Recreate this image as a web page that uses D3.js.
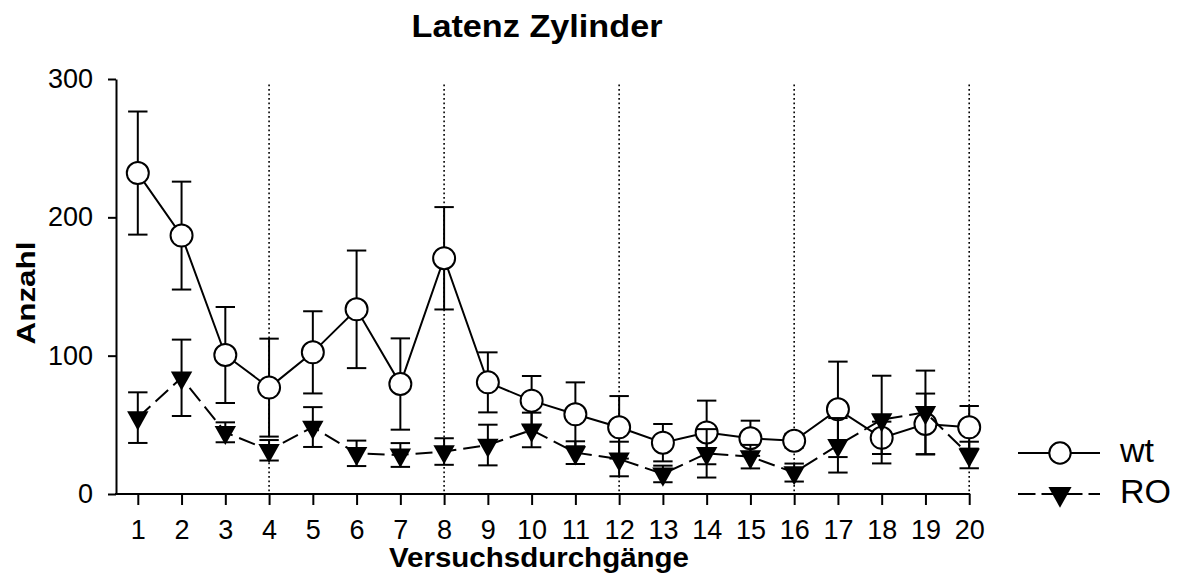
<!DOCTYPE html>
<html>
<head>
<meta charset="utf-8">
<script src="https://cdn.jsdelivr.net/npm/d3@7"></script>
<style>
  html, body { margin: 0; padding: 0; background: #fff; }
  svg { display: block; font-family: "Liberation Sans", Arial, sans-serif; }
</style>
</head>
<body>
<svg id="chart" width="1180" height="574"></svg>
<script>
// Trials (Versuchsdurchgänge)
const trials = d3.range(1, 21);

// Latency, wild type: mean and error
const wtMean = [232, 186.8, 100.5, 76.9, 102.4, 133.5, 79.5, 170.4, 80.7, 67.5,
                57.6, 48.2, 37.1, 44.5, 40.3, 38.5, 61.2, 40.6, 50.6, 48.2];
const wtErr  = [44.5, 39, 34.7, 35.4, 29.7, 42.5, 33, 37, 21.7, 17.8,
                23.1, 22.6, 13.5, 23, 12.7, 5, 34.5, 11.7, 22, 15.4];

// Latency, RO group: mean and error
const roMean = [55.2, 84, 44.6, 31.6, 48.4, 29.4, 28.2, 30.7, 35.4, 46.3,
                29.9, 25.3, 14.5, 29.4, 27, 15.5, 35.2, 53.8, 59, 28.2];
const roErr  = [18.3, 27.6, 7.2, 7.4, 14.4, 9.2, 8.6, 9.6, 14.7, 12.5,
                8.2, 12.5, 6, 17.5, 8.5, 6.5, 19.7, 31.7, 30.2, 9.6];

const yTicks = [0, 100, 200, 300];
const blockTicks = [4, 8, 12, 16, 20];

const svg = d3.select("#chart");
const x = d3.scaleLinear().domain([1, 20]).range([137.8, 969.2]);
const y = d3.scaleLinear().domain([0, 300]).range([494, 79]);
const axisX0 = 116;

// dotted block separators
svg.append("g").selectAll("line").data(blockTicks).join("line")
  .attr("x1", d => x(d)).attr("x2", d => x(d))
  .attr("y1", y(296)).attr("y2", y(0))
  .attr("stroke", "#000").attr("stroke-width", 1.6)
  .attr("stroke-dasharray", "1.8,2.7");

// y axis
const gy = svg.append("g").attr("transform", `translate(${axisX0},0)`)
  .call(d3.axisLeft(y).tickValues(yTicks).tickSize(8).tickSizeOuter(0).tickPadding(15));
gy.select(".domain").attr("stroke-width", 2);
gy.selectAll(".tick line").attr("stroke-width", 2);
gy.selectAll(".tick text").attr("font-size", 27).attr("font-family", "Liberation Sans, Arial, sans-serif").attr("fill", "#000");

// x axis
const gx = svg.append("g").attr("transform", `translate(0,${y(0)})`)
  .call(d3.axisBottom(x).tickValues(trials).tickFormat(d3.format("d")).tickSize(11).tickSizeOuter(0).tickPadding(15));
gx.select(".domain").remove();
gx.selectAll(".tick line").attr("stroke-width", 2);
gx.selectAll(".tick text").attr("font-size", 27).attr("font-family", "Liberation Sans, Arial, sans-serif").attr("fill", "#000");
svg.append("line").attr("x1", axisX0 - 1).attr("x2", x(20) + 1)
  .attr("y1", y(0)).attr("y2", y(0)).attr("stroke", "#000").attr("stroke-width", 2);

// titles
svg.append("text").attr("x", 537).attr("y", 37).attr("text-anchor", "middle")
  .attr("font-size", 32).attr("font-weight", "bold")
  .attr("textLength", 251).attr("lengthAdjust", "spacingAndGlyphs")
  .text("Latenz Zylinder");
svg.append("text").attr("x", 539).attr("y", 567).attr("text-anchor", "middle")
  .attr("font-size", 27).attr("font-weight", "bold")
  .attr("textLength", 300).attr("lengthAdjust", "spacingAndGlyphs")
  .text("Versuchsdurchgänge");
svg.append("text").attr("transform", "translate(35,293) rotate(-90)").attr("text-anchor", "middle")
  .attr("font-size", 26).attr("font-weight", "bold")
  .attr("textLength", 103).attr("lengthAdjust", "spacingAndGlyphs")
  .text("Anzahl");

const triPath = "M-10.7,-6.4L10.7,-6.4L0,12.8Z";

function errorBars(g, mean, err) {
  const cap = 9.7;
  trials.forEach((t, i) => {
    const cx = x(t), top = y(mean[i] + err[i]), bot = y(mean[i] - err[i]);
    g.append("line").attr("x1", cx).attr("x2", cx).attr("y1", top).attr("y2", bot);
    g.append("line").attr("x1", cx - cap).attr("x2", cx + cap).attr("y1", top).attr("y2", top);
    g.append("line").attr("x1", cx - cap).attr("x2", cx + cap).attr("y1", bot).attr("y2", bot);
  });
  g.attr("stroke", "#000").attr("stroke-width", 2);
}

const line = d3.line().x((d, i) => x(trials[i])).y(d => y(d));

// wild type series
errorBars(svg.append("g"), wtMean, wtErr);
svg.append("path").datum(wtMean).attr("d", line)
  .attr("fill", "none").attr("stroke", "#000").attr("stroke-width", 2);
svg.append("g").selectAll("circle").data(wtMean).join("circle")
  .attr("cx", (d, i) => x(trials[i])).attr("cy", d => y(d)).attr("r", 11)
  .attr("fill", "#fff").attr("stroke", "#000").attr("stroke-width", 2);

// RO series
errorBars(svg.append("g"), roMean, roErr);
svg.append("path").datum(roMean).attr("d", line)
  .attr("fill", "none").attr("stroke", "#000").attr("stroke-width", 2)
  .attr("stroke-dasharray", "17,7");
svg.append("g").selectAll("path").data(roMean).join("path")
  .attr("d", triPath)
  .attr("transform", (d, i) => `translate(${x(trials[i])},${y(d)})`)
  .attr("fill", "#000");

// legend
const leg = svg.append("g");
leg.append("line").attr("x1", 1018).attr("x2", 1100).attr("y1", 453).attr("y2", 453)
  .attr("stroke", "#000").attr("stroke-width", 2);
leg.append("circle").attr("cx", 1060).attr("cy", 453).attr("r", 10.7)
  .attr("fill", "#fff").attr("stroke", "#000").attr("stroke-width", 2);
leg.append("text").attr("x", 1120).attr("y", 462).attr("font-size", 34).text("wt");
leg.append("line").attr("x1", 1018).attr("x2", 1100).attr("y1", 494).attr("y2", 494)
  .attr("stroke", "#000").attr("stroke-width", 2).attr("stroke-dasharray", "17.5,6");
leg.append("path").attr("d", triPath).attr("transform", "translate(1060,494) scale(1.08)").attr("fill", "#000");
leg.append("text").attr("x", 1120).attr("y", 503).attr("font-size", 34).text("RO");
</script>
</body>
</html>
